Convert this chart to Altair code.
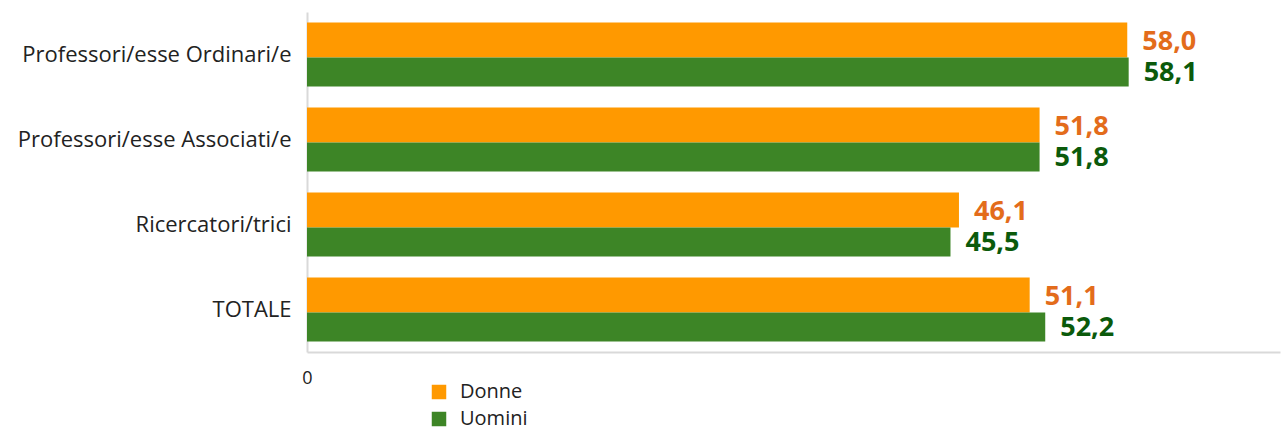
import altair as alt
import pandas as pd

categories = ["Professori/esse Ordinari/e", "Professori/esse Associati/e", "Ricercatori/trici", "TOTALE"]
donne = [58.0, 51.8, 46.1, 51.1]
uomini = [58.1, 51.8, 45.5, 52.2]
series = ["Donne", "Uomini"]
bar_colors = ["#FF9900", "#3D8526"]
text_colors = ["#E36C1B", "#0B5A0B"]

rows = []
for s, vals in zip(series, [donne, uomini]):
    for c, v in zip(categories, vals):
        rows.append({"cat": c, "serie": s, "value": v, "label": f"{v:.1f}".replace(".", ",")})
df = pd.DataFrame(rows)

FONT = "Open Sans"
xscale = alt.Scale(domain=[0, 68.8], nice=False, zero=True)
yenc = alt.Y("cat:N", sort=categories, title=None,
             scale=alt.Scale(paddingInner=0, paddingOuter=0),
             axis=alt.Axis(ticks=False, domainColor="#D9D9D9", domainWidth=2,
                           labelFontSize=22, labelFont=FONT, labelColor="#222222",
                           labelPadding=16, labelLimit=400))
xenc = alt.X("value:Q", scale=xscale, title=None,
             axis=alt.Axis(values=[0], grid=False, ticks=False, domainColor="#D9D9D9",
                           domainWidth=2, labelFontSize=18, labelFont=FONT, labelFlush=False,
                           labelColor="#222222", labelPadding=17))
color = alt.Color("serie:N", scale=alt.Scale(domain=series, range=bar_colors),
                  legend=alt.Legend(title=None, orient="none", legendX=122, legendY=370,
                                    symbolType="square", symbolSize=210, symbolStrokeWidth=0,
                                    labelFontSize=20, labelFont=FONT, labelColor="#222222",
                                    rowPadding=7, labelOffset=11))

base = alt.Chart(df).encode(y=yenc)

bars_d = base.transform_filter(alt.datum.serie == "Donne").mark_bar(
    height=35, yOffset=-14.5).encode(x=xenc, color=color)
bars_u = base.transform_filter(alt.datum.serie == "Uomini").mark_bar(
    height=29, yOffset=17.5).encode(x=xenc, color=color)
txt_d = base.transform_filter(alt.datum.serie == "Donne").mark_text(
    align="left", baseline="middle", dx=15, yOffset=-13, fontSize=27, fontWeight="bold",
    font=FONT, color=text_colors[0]).encode(x=alt.X("value:Q", scale=xscale), text="label:N")
txt_u = base.transform_filter(alt.datum.serie == "Uomini").mark_text(
    align="left", baseline="middle", dx=15, yOffset=18.5, fontSize=27, fontWeight="bold",
    font=FONT, color=text_colors[1]).encode(x=alt.X("value:Q", scale=xscale), text="label:N")

chart = alt.layer(bars_d, bars_u, txt_d, txt_u).properties(
    width=973, height=340, background="white",
    autosize=alt.AutoSizeParams(type="none"),
    padding={"left": 307, "top": 12, "right": 1, "bottom": 75},
).configure_view(strokeWidth=0, stroke=None)

chart.save("out.html", embed_options={"renderer": "svg", "actions": False})
